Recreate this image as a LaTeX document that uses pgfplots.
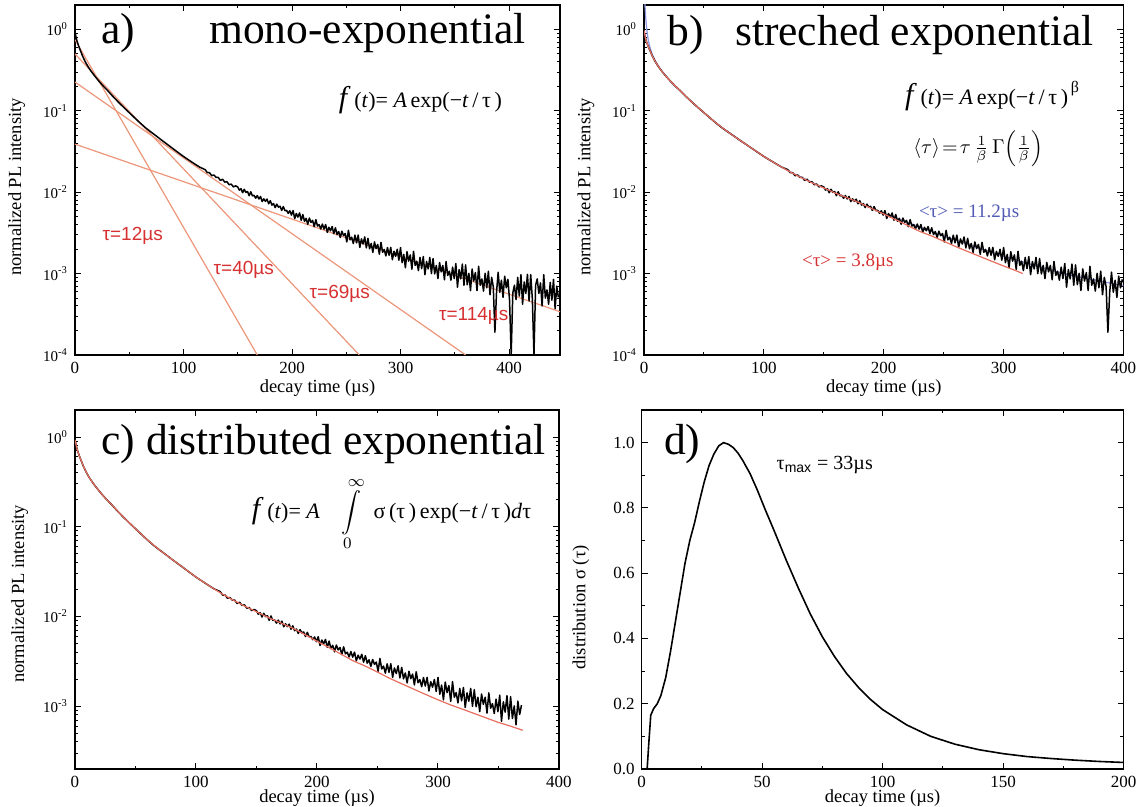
\documentclass[border=0pt]{standalone}
\usepackage{fontspec}
\setmainfont{Liberation Serif}
\newfontfamily\arial{Liberation Sans}
\usepackage{pgfplots}
\usepackage{pgfplotstable}
\pgfplotsset{compat=1.18}
\pgfkeys{/pgf/number format/assume math mode=true}
\definecolor{salmon}{RGB}{236,150,122}
\definecolor{redtxt}{RGB}{214,48,48}
\definecolor{bluetxt}{RGB}{80,90,180}
\definecolor{bluecurve}{RGB}{140,150,225}
\definecolor{fitred}{RGB}{232,110,95}

\pgfplotstableread{
t y
0 0.93
1 0.80
2 0.71
3.5 0.62
5 0.55
7 0.47
9.5 0.40
12 0.35
15 0.305
18 0.27
22 0.232
26 0.202
30 0.178
35 0.150
40 0.128
45 0.110
50 0.095
55 0.082
60 0.071
65 0.062
70 0.055
75 0.049
80 0.0435
85 0.0388
90 0.0346
95 0.0308
100 0.0275
105 0.0248
110 0.0224
115 0.0203
120 0.01895
122 0.01736
124 0.01736
126 0.01597
128 0.0163
130 0.01525
132 0.0152
134 0.01397
136 0.01445
138 0.0133
140 0.01349
142 0.01238
144 0.01259
146 0.01162
148 0.01199
150 0.0116
151.5 0.01061
153 0.01105
154.5 0.00987
156 0.01086
157.5 0.00996
159 0.01021
160.5 0.00906
162 0.01014
163.5 0.00903
165 0.00916
166.5 0.00844
168 0.00911
169.5 0.00827
171 0.00887
172.5 0.00768
174 0.00829
175.5 0.00773
177 0.00822
178.5 0.00721
180 0.00787
181.5 0.00695
183 0.00725
184.5 0.00648
186 0.00714
187.5 0.00656
189 0.00673
190.5 0.00598
192 0.00667
193.5 0.00593
195 0.00599
196.5 0.00551
198 0.00592
199.5 0.00524
201 0.00595
202.5 0.00475
204 0.00547
205.5 0.00495
207 0.00556
208.5 0.00453
210 0.00532
211.5 0.00439
213 0.00478
214.5 0.00404
216 0.00481
217.5 0.00425
219 0.00451
220.5 0.00377
222 0.00460
223.5 0.00384
225 0.00400
226.5 0.00354
228 0.00407
229.5 0.00352
231 0.00401
232.5 0.00321
234 0.00371
235.5 0.00336
237 0.00379
238.5 0.00310
240 0.00366
241.5 0.00302
243 0.00329
244.5 0.00278
246 0.00332
247.5 0.00293
249 0.00311
250.5 0.00245
252 0.00341
253.5 0.00260
255 0.00280
256.5 0.00234
258 0.00297
259.5 0.00239
261 0.00298
262.5 0.00210
264 0.00267
265.5 0.00231
267 0.00282
268.5 0.00207
270 0.00271
271.5 0.00202
273 0.00235
274.5 0.00182
276 0.00245
277.5 0.00203
279 0.00228
280.5 0.00173
282 0.00242
283.5 0.00183
285 0.00198
286.5 0.00165
288 0.00209
289.5 0.00168
291 0.00210
292.5 0.00148
294 0.00188
295.5 0.00163
297 0.00199
298.5 0.00146
300 0.00209
301.5 0.00136
303 0.00172
304.5 0.00118
306 0.00186
307.5 0.00142
309 0.00170
310.5 0.00113
312 0.00188
313.5 0.00126
315 0.00142
316.5 0.00109
318 0.00158
319.5 0.00115
321 0.00162
322.5 0.00097
324 0.00141
325.5 0.00114
327 0.00158
328.5 0.00100
330 0.00153
331.5 0.00099
333 0.00126
334.5 0.00087
336 0.00137
337.5 0.00105
339 0.00126
340.5 0.00084
342 0.00141
343.5 0.00095
345 0.00107
346.5 0.00083
348 0.00120
349.5 0.00087
351 0.00133
352.5 0.00068
354 0.00112
355.5 0.00086
357 0.00131
358.5 0.00072
360 0.00128
361.5 0.00073
363 0.00101
364.5 0.00062
366 0.00114
367.5 0.00081
369 0.00103
370.5 0.00062
372 0.00123
373.5 0.00072
375 0.00086
376.5 0.00061
378 0.00101
379.5 0.00067
381 0.00107
382.5 0.00055
384 0.00090
385.5 0.00069
387 0.00019
388.5 0.00059
390 0.00104
391.5 0.00059
393 0.00083
394.5 0.00051
396 0.00093
397.5 0.00067
399 0.00085
400.5 0.00047
402 0.00010
403.5 0.00058
405 0.00072
406.5 0.00048
408 0.00090
409.5 0.00053
411 0.00097
412.5 0.00042
414 0.00079
415.5 0.00057
417 0.00098
418.5 0.00046
420 0.00097
421.5 0.00049
423 0.00010
424.5 0.00072
426 0.00086
427.5 0.00057
429 0.00077
430.5 0.00040
432 0.00097
433.5 0.00050
435 0.00063
436.5 0.00042
438 0.00078
439.5 0.00047
441 0.00085
442.5 0.00037
444 0.00070
445.5 0.00051
}\decay

\pgfplotstableread{
t y
0.3 0.97
1 0.80
2 0.71
3.5 0.62
5 0.55
7 0.47
9.5 0.40
12 0.35
15 0.305
18 0.27
22 0.232
26 0.202
30 0.178
35 0.150
40 0.128
50 0.095
60 0.071
70 0.055
80 0.0435
90 0.0346
100 0.0275
110 0.0224
120 0.0184
130 0.0154
140 0.0131
150 0.0113
160 0.0097
170 0.0085
180 0.0074
190 0.0063
200 0.0054
210 0.0046
220 0.0039
230 0.0033
240 0.0029
250 0.0025
260 0.00215
270 0.00187
280 0.00163
290 0.00142
300 0.00124
310 0.00109
316 0.00100
}\fitb

\pgfplotstableread{
t y
0.3 3.0
0.8 2.0
1.5 1.35
2.5 0.95
3.5 0.75
5 0.60
7 0.49
9.5 0.41
12 0.355
15 0.307
18 0.27
22 0.232
26 0.202
30 0.178
40 0.128
50 0.095
60 0.071
80 0.0435
100 0.0275
120 0.0184
150 0.0113
200 0.0055
250 0.0029
300 0.00163
350 0.00100
400 0.00071
}\blueb

\pgfplotstableread{
t y
0 0.93
1 0.80
2 0.71
3.5 0.62
5 0.55
7 0.47
9.5 0.40
12 0.35
15 0.305
18 0.27
22 0.232
26 0.202
30 0.178
40 0.128
50 0.095
60 0.071
70 0.055
80 0.0435
90 0.0346
100 0.0275
110 0.0224
120 0.0184
130 0.0154
140 0.0131
150 0.0113
160 0.0097
170 0.0085
180 0.0074
190 0.0063
200 0.0053
210 0.0045
220 0.0038
230 0.0032
240 0.0028
250 0.0024
260 0.00205
270 0.00178
280 0.00155
290 0.00135
300 0.00118
310 0.00104
320 0.00093
330 0.00083
340 0.00074
350 0.00066
360 0.00060
370 0.00054
}\fitc

\pgfplotstableread{
t y
2.3 0.0
3.0 0.08
3.8 0.165
5 0.185
6.5 0.20
8 0.225
10 0.28
12 0.36
14 0.45
16 0.54
18 0.63
20 0.70
22 0.755
24 0.82
26 0.88
28 0.93
30 0.965
32 0.99
34 1.0
36 0.995
38 0.985
40 0.968
42 0.945
45 0.905
48 0.855
51 0.80
55 0.73
60 0.64
65 0.555
70 0.475
75 0.405
80 0.345
85 0.293
90 0.25
95 0.213
100 0.182
110 0.135
120 0.10
130 0.076
140 0.059
150 0.047
160 0.038
170 0.032
180 0.027
190 0.023
200 0.020
}\distr

\pgfplotsset{
  panel/.style={
    scale only axis,
    enlargelimits=false,
    axis line style={line width=0.6pt},
    tick align=inside,
    xtick pos=both, ytick pos=both,
    major tick length=3pt,
    minor tick length=1.6pt,
    every tick/.style={black, line width=0.5pt},
    tick label style={font=\fontsize{8.5}{10}\selectfont},
    label style={font=\fontsize{9.25}{11}\selectfont},
    xlabel={decay time (µs)},
  },
  logab/.style={
    ymin=1e-4, ymax=2,
    ytick={1,0.1,0.01,0.001,0.0001},
    yticklabels={10\textsuperscript{0},10\textsuperscript{-1},10\textsuperscript{-2},10\textsuperscript{-3},10\textsuperscript{-4}},
    minor ytick={2e-4,3e-4,4e-4,5e-4,6e-4,7e-4,8e-4,9e-4,0.002,0.003,0.004,0.005,0.006,0.007,0.008,0.009,0.02,0.03,0.04,0.05,0.06,0.07,0.08,0.09,0.2,0.3,0.4,0.5,0.6,0.7,0.8,0.9,2},
    yticklabel style={font=\fontsize{7.5}{9}\selectfont},
    ylabel={normalized PL intensity},
  },
}
\tikzset{bigt/.style={font=\fontsize{21.75}{24}\selectfont},
  noisy/.style={black, line width=0.75pt, line join=round}}

\begin{document}
\begin{tikzpicture}
\path[use as bounding box] (0pt,0pt) rectangle (571pt,403.5pt);

% ---------- a ----------
\begin{axis}[ymode=log, panel, logab, at={(37.5pt,226pt)}, anchor=south west,
  width=242.5pt, height=175pt, xmin=0, xmax=447,
  xtick={0,100,200,300,400}, minor xtick={50,150,250,350},
  ylabel style={at={(axis description cs:-0.12,0.48)}, anchor=center},
  xlabel style={at={(axis description cs:0.5,-0.095)}, anchor=center}]
\addplot[salmon, line width=0.6pt] coordinates {(0,0.75) (168,1e-4)};
\addplot[salmon, line width=0.6pt] coordinates {(0,0.5) (262,1e-4)};
\addplot[salmon, line width=0.6pt] coordinates {(0,0.226) (360,1e-4)};
\addplot[salmon, line width=0.6pt] coordinates {(0,0.039) (447,3.4e-4)};
\addplot[noisy] table[x=t,y=y] {\decay};
\node[bigt, anchor=base west] at (rel axis cs:0.040,0.889) {a)};
\node[bigt, anchor=base east] at (rel axis cs:0.944,0.889) {mono-exponential};
\node[anchor=east, font=\fontsize{11}{13}\selectfont] at (rel axis cs:0.895,0.729)
  {{\fontsize{15}{15}\selectfont\textit{f}}\,(\textit{t})= \textit{A}\,exp(−\textit{t}\,/\,τ\,)};
\node[redtxt, font=\arial\fontsize{9.5}{11}\selectfont] at (rel axis cs:0.119,0.339) {τ=12µs};
\node[redtxt, font=\arial\fontsize{9.5}{11}\selectfont] at (rel axis cs:0.348,0.242) {τ=40µs};
\node[redtxt, font=\arial\fontsize{9.5}{11}\selectfont] at (rel axis cs:0.546,0.175) {τ=69µs};
\node[redtxt, font=\arial\fontsize{9.5}{11}\selectfont] at (rel axis cs:0.822,0.112) {τ=114µs};
\end{axis}

% ---------- b ----------
\begin{axis}[ymode=log, panel, logab, at={(322pt,226pt)}, anchor=south west,
  width=239.75pt, height=175pt, xmin=0, xmax=400,
  xtick={0,100,200,300,400}, minor xtick={50,150,250,350},
  ylabel style={at={(axis description cs:-0.121,0.48)}, anchor=center},
  xlabel style={at={(axis description cs:0.5,-0.095)}, anchor=center}]
\addplot[bluecurve, line width=0.6pt] table[x=t,y=y] {\blueb};
\addplot[noisy, restrict x to domain=0:400] table[x=t,y=y] {\decay};
\addplot[fitred, line width=0.6pt] table[x=t,y=y] {\fitb};
\node[bigt, anchor=base west] at (rel axis cs:0.035,0.884) {b)};
\node[bigt, anchor=base east] at (rel axis cs:0.953,0.884) {streched exponential};
\node[anchor=east, font=\fontsize{11}{13}\selectfont] at (rel axis cs:0.922,0.74)
  {{\fontsize{15}{15}\selectfont\textit{f}}\,(\textit{t})= \textit{A}\,exp(−\textit{t}\,/\,τ\,)\raisebox{1.2ex}{\fontsize{8}{9}\selectfont\,β}};
\node[font=\fontsize{10}{12}\selectfont] at (rel axis cs:0.697,0.59)
  {$\left\langle\tau\right\rangle\!=\!\tau\,\frac{1}{\beta}\,\Gamma\!\left(\frac{1}{\beta}\right)$};
\node[bluetxt, font=\fontsize{9.5}{11}\selectfont] at (rel axis cs:0.678,0.406) {<τ> = 11.2µs};
\node[redtxt, font=\fontsize{9.5}{11}\selectfont] at (rel axis cs:0.425,0.266) {<τ> = 3.8µs};
\end{axis}

% ---------- c ----------
\begin{axis}[ymode=log, panel, at={(37.5pt,19pt)}, anchor=south west,
  width=242pt, height=179.5pt, xmin=0, xmax=400,
  ymin=2e-4, ymax=2,
  ytick={1,0.1,0.01,0.001},
  yticklabels={10\textsuperscript{0},10\textsuperscript{-1},10\textsuperscript{-2},10\textsuperscript{-3}},
  minor ytick={3e-4,4e-4,5e-4,6e-4,7e-4,8e-4,9e-4,0.002,0.003,0.004,0.005,0.006,0.007,0.008,0.009,0.02,0.03,0.04,0.05,0.06,0.07,0.08,0.09,0.2,0.3,0.4,0.5,0.6,0.7,0.8,0.9},
  yticklabel style={font=\fontsize{7.5}{9}\selectfont},
  ylabel={normalized PL intensity},
  xtick={0,100,200,300,400}, minor xtick={50,150,250,350},
  ylabel style={at={(axis description cs:-0.114,0.488)}, anchor=center},
  xlabel style={at={(axis description cs:0.5,-0.081)}, anchor=center}]
\addplot[noisy, restrict x to domain=0:370] table[x=t,y=y] {\decay};
\addplot[fitred, line width=0.6pt] table[x=t,y=y] {\fitc};
\node[bigt, anchor=base west] at (rel axis cs:0.040,0.875) {c) distributed exponential};
\node[anchor=east, font=\fontsize{11}{13}\selectfont] at (rel axis cs:0.957,0.71)
  {{\fontsize{15}{15}\selectfont\textit{f}}\,(\textit{t})= \textit{A}\quad$\displaystyle\int\limits_{0}^{\infty}$\;\ σ\,(τ\,)\,exp(−\textit{t}\,/\,τ\,)\textit{d}τ};
\end{axis}

% ---------- d ----------
\begin{axis}[panel, at={(320.8pt,19pt)}, anchor=south west,
  width=241pt, height=179.5pt, xmin=0, xmax=200, ymin=0, ymax=1.1,
  xtick={0,50,100,150,200}, minor xtick={25,75,125,175},
  ytick={0,0.2,0.4,0.6,0.8,1.0}, minor ytick={0.1,0.3,0.5,0.7,0.9},
  yticklabel style={/pgf/number format/.cd, fixed, fixed zerofill, precision=1},
  ylabel={distribution σ (τ)},
  ylabel style={at={(axis description cs:-0.126,0.45)}, anchor=center},
  xlabel style={at={(axis description cs:0.5,-0.081)}, anchor=center}]
\addplot[black, line width=0.8pt] table[x=t,y=y] {\distr};
\node[bigt, anchor=base west] at (rel axis cs:0.032,0.875) {d)};
\node[font=\fontsize{10}{12}\selectfont] at (rel axis cs:0.38,0.847) {τ\textsubscript{\arial max} = 33µs};
\end{axis}
\end{tikzpicture}
\end{document}
